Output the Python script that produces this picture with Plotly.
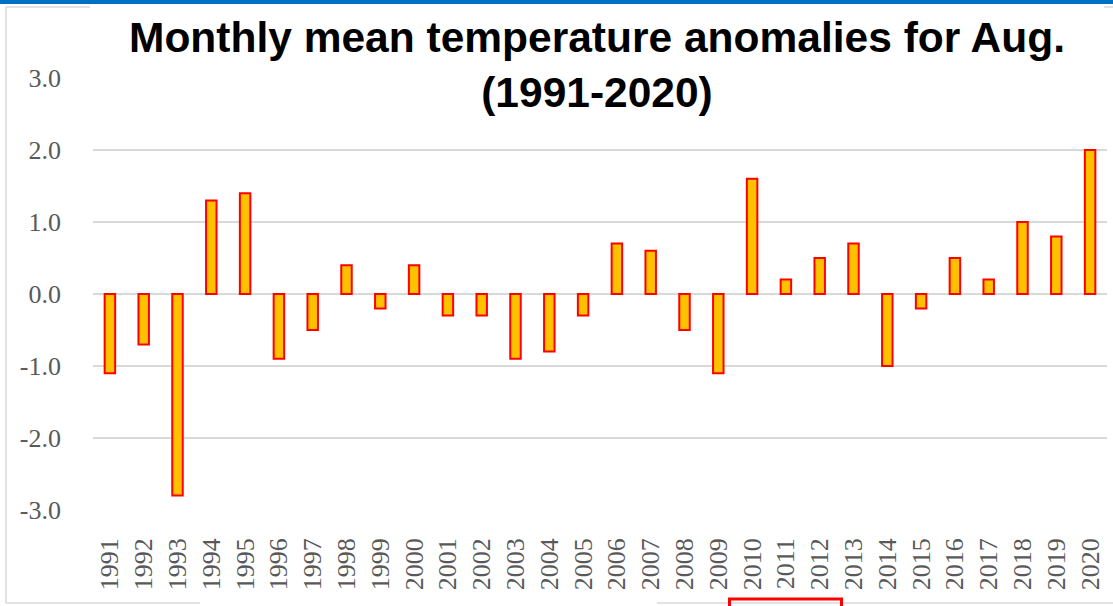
import plotly.graph_objects as go

years = [str(y) for y in range(1991, 2021)]
anomalies = [-1.1, -0.7, -2.8, 1.3, 1.4, -0.9, -0.5, 0.4, -0.2, 0.4,
             -0.3, -0.3, -0.9, -0.8, -0.3, 0.7, 0.6, -0.5, -1.1, 1.6,
             0.2, 0.5, 0.7, -1.0, -0.2, 0.5, 0.2, 1.0, 0.8, 2.0]
y_ticks = [-3, -2, -1, 0, 1, 2, 3]
y_tick_text = ["-3.0", "-2.0", "-1.0", "0.0", "1.0", "2.0", "3.0"]
title_text = "Monthly mean temperature anomalies for Aug.<br>(1991-2020)"

W, H = 1113, 606
L, R, T, B = 93, 6, 78, 96
PW, PH = W - L - R, H - T - B

def px(x):
    return (x - L) / PW

def py(y):
    return (H - B - y) / PH

fig = go.Figure()
fig.add_trace(go.Bar(
    x=years, y=anomalies, width=0.31,
    marker=dict(color="#FFC000", line=dict(color="#FF0000", width=2)),
))

shapes = []
gray = "#D9D9D9"
shapes.append(dict(type="line", xref="paper", yref="paper", x0=px(6), x1=px(6), y0=py(7), y1=py(603), line=dict(color=gray, width=1.5)))
shapes.append(dict(type="line", xref="paper", yref="paper", x0=px(6), x1=px(1113), y0=py(7), y1=py(7), line=dict(color=gray, width=1.5)))
shapes.append(dict(type="line", xref="paper", yref="paper", x0=px(6), x1=px(200), y0=py(603), y1=py(603), line=dict(color=gray, width=1.5)))
shapes.append(dict(type="line", xref="paper", yref="paper", x0=px(657), x1=px(1113), y0=py(603), y1=py(603), line=dict(color=gray, width=1.5)))
shapes.append(dict(type="rect", xref="paper", yref="paper", x0=px(90), x1=px(1104), y0=py(6), y1=py(80), fillcolor="white", line=dict(width=0), layer="above"))
shapes.append(dict(type="rect", xref="paper", yref="paper", x0=px(729.5), x1=px(841.5), y0=py(599), y1=py(615), fillcolor="rgba(0,0,0,0)", line=dict(color="#FF0000", width=3), layer="above"))

fig.update_layout(
    width=W, height=H,
    margin=dict(l=L, r=R, t=T, b=B),
    paper_bgcolor="white", plot_bgcolor="white",
    showlegend=False,
    shapes=shapes,
    annotations=[
        dict(
            text=title_text, xref="paper", yref="paper", x=0.4975, y=py(65),
            xanchor="center", yanchor="middle", showarrow=False,
            font=dict(family="Liberation Sans, Arial", size=42.5, color="black", weight="bold"),
        ),
        dict(
            text=" ", xref="paper", yref="paper", x=px(0), y=py(0),
            xanchor="left", yanchor="top", showarrow=False,
            width=1113, height=4, bgcolor="#0070C0", borderpad=0, borderwidth=0,
            font=dict(size=2), valign="top",
        ),
    ],
)
fig.update_xaxes(
    type="category", tickangle=-90,
    tickfont=dict(family="Liberation Serif, Times New Roman", size=26, color="#595959"),
    showgrid=False, showline=False, ticks="", ticklabelstandoff=22,
)
fig.update_yaxes(
    range=[-3, 3], tickvals=y_ticks, ticktext=y_tick_text,
    tickfont=dict(family="Liberation Serif, Times New Roman", size=26, color="#595959"),
    showgrid=True, gridcolor="#D9D9D9", gridwidth=1.5,
    zeroline=True, zerolinecolor="#D9D9D9", zerolinewidth=1.5,
    showline=False, ticks="", ticklabelstandoff=31,
)
fig.write_html("out.html", config={"displayModeBar": False},
               post_script="document.body.style.margin='0';")
